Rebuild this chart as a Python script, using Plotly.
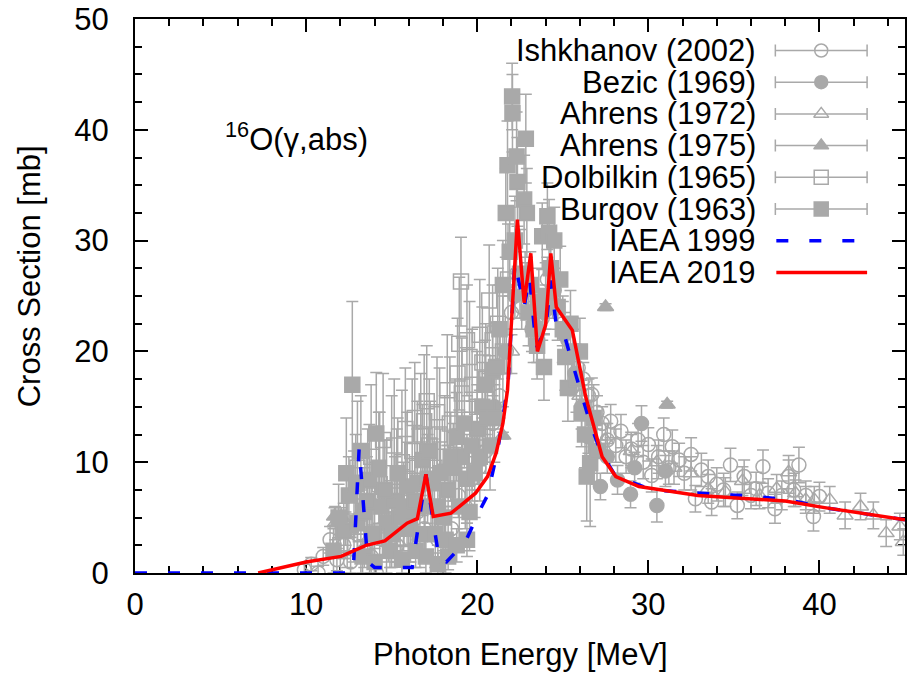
import plotly.graph_objects as go

# ---------------- data ----------------
# Ishkhanov (2002) open circles: energy, cross section, error
ish_E = [9.9, 10.3, 10.7, 11.0, 11.4, 11.8, 12.2, 12.6, 13.0, 13.4, 13.8, 14.1, 14.5, 14.9, 15.3, 15.7, 16.1, 16.5,
         16.9, 17.3, 17.7, 18.1, 18.5, 18.9, 19.3, 19.7, 20.1, 20.5, 20.9, 21.3, 21.7, 22.0, 22.3, 22.6,
         22.9, 23.2, 23.5, 23.8, 24.1, 24.4, 24.7, 25.0, 25.3, 25.6, 25.9, 26.2, 26.5, 26.7, 27.0, 27.3,
         27.6, 27.8, 28.1, 28.4, 28.7, 29.0, 29.4, 29.7, 30.0, 30.2, 30.6, 30.9, 31.2, 31.4, 31.8, 32.1,
         32.5, 32.75, 33.1, 33.5, 33.7, 34.0, 34.4, 34.8, 35.2, 35.6, 36.0, 36.3, 36.7, 37.0, 37.4, 37.8,
         38.2, 38.5, 38.8, 39.2, 39.65, 40.0]
ish_S = [0.3, 0.8, 0.0, 1.5, 3.0, 1.2, 2.5, 1.0, 3.5, 2.0, 1.5, 0.0, 3.0, 4.0, 2.5, 4.5, 3.0, 5.5,
         4.0, 6.0, 3.0, 5.0, 4.0, 7.0, 6.0, 8.5, 9.5, 11.0, 13.5, 16.0, 20.0, 23.5, 27.0, 24.0,
         26.0, 22.0, 21.0, 23.0, 26.5, 25.0, 24.0, 22.5, 21.0, 20.0, 18.5, 17.5, 16.0, 16.1, 14.5, 13.5,
         12.0, 13.7, 11.5, 12.8, 10.5, 11.2, 12.0, 10.0, 11.6, 8.8, 10.5, 12.5, 9.5, 11.4, 10.2, 9.0,
         10.7, 6.7, 9.3, 8.7, 6.4, 8.0, 7.5, 9.75, 6.1, 8.7, 7.0, 7.6, 9.6, 7.2, 5.8, 7.0,
         8.7, 7.5, 9.75, 7.0, 5.1, 6.9]
ish_D = [0.5, 0.6, 0.6, 0.8, 1.2, 1.0, 1.2, 1.0, 1.5, 1.5, 1.5, 0.8, 1.5, 1.5, 1.5, 2.0, 2.0, 2.0,
         2.0, 2.0, 2.0, 2.0, 2.0, 2.0, 2.0, 2.0, 2.0, 2.0, 2.0, 2.0, 2.0, 2.0, 2.0, 2.0,
         2.0, 2.0, 2.0, 2.0, 2.0, 2.0, 2.0, 2.0, 2.0, 2.0, 2.0, 1.5, 1.5, 1.5, 1.5, 1.5,
         1.5, 1.5, 1.5, 1.5, 1.5, 1.5, 1.5, 1.5, 1.5, 1.5, 1.5, 1.5, 1.5, 1.5, 1.5, 1.5,
         1.5, 1.2, 1.5, 1.5, 1.2, 1.5, 1.5, 1.5, 1.2, 1.5, 1.2, 1.5, 1.5, 1.3, 1.3, 1.3,
         1.5, 1.5, 1.6, 1.3, 1.3, 1.3]

# Bezic (1969) filled circles
bez_E = [21.0, 21.6, 22.2, 22.8, 23.3, 23.9, 24.5, 25.1, 25.7, 26.1, 26.5, 27.2, 27.6, 28.2, 28.96, 29.2, 29.6, 30.5, 31.0]
bez_S = [15.0, 20.0, 25.0, 27.0, 22.5, 23.5, 25.5, 21.5, 18.0, 15.0, 12.3, 7.8, 10.5, 8.4, 7.1, 9.5, 13.5, 6.1, 9.2]
bez_D = [2.0, 2.0, 2.0, 2.0, 2.0, 2.0, 2.0, 2.0, 2.0, 2.0, 1.5, 1.2, 1.5, 1.3, 1.2, 1.4, 1.6, 1.5, 1.4]

# Ahrens (1972) open triangles
a72_E = [11.7, 12.3, 20.0, 22.0, 24.0, 26.0, 27.5, 29.0, 30.5, 31.5, 32.5, 33.5, 34.5, 35.5, 36.5, 37.5,
         38.2, 38.6, 39.2, 39.7, 40.6, 41.5, 42.4, 43.15, 43.9, 44.7, 44.9]
a72_S = [4.5, 4.0, 10.0, 20.0, 24.0, 16.0, 12.0, 11.0, 10.0, 9.5, 9.0, 7.6, 7.3, 8.3, 7.0, 7.6,
         9.1, 7.2, 6.6, 6.6, 6.6, 5.2, 6.0, 5.2, 3.6, 4.2, 2.8]
a72_D = [1.5, 1.5, 2.0, 2.0, 2.0, 1.5, 1.5, 1.5, 1.5, 1.5, 1.5, 1.3, 1.3, 1.3, 1.2, 1.3,
         1.5, 1.2, 1.2, 1.2, 1.2, 1.2, 1.2, 1.2, 1.2, 1.2, 1.2]

# Ahrens (1975) filled triangles
a75_E = [11.66, 12.05, 12.6, 13.2, 21.5, 27.5, 31.1]
a75_S = [5.1, 5.1, 4.0, 5.5, 12.4, 24.0, 15.2]
a75_D = [0.8, 0.8, 0.8, 0.8, 0.3, 0.3, 0.3]

# Dolbilkin (1965) open squares
dol_E = [12.0, 12.4, 12.8, 13.2, 13.6, 14.0, 14.3, 14.7, 15.0, 15.3, 15.6, 15.9, 16.2, 16.5, 16.9, 17.2,
         17.5, 17.8, 18.1, 18.4, 18.7, 18.95, 19.05, 19.1, 19.4, 19.7, 20.0, 20.3, 20.7, 20.9, 21.2, 21.5, 21.8,
         13.0, 13.8, 14.5, 15.15, 15.8, 16.35, 16.7, 17.05, 17.65, 18.25, 18.85, 19.55, 20.15, 20.5]
dol_S = [2.5, 4.0, 6.0, 3.5, 7.0, 5.0, 8.0, 6.0, 9.0, 7.0, 10.0, 8.5, 11.0, 9.5, 13.7, 11.5,
         9.5, 12.5, 10.5, 13.5, 12.0, 20.7, 26.3, 16.2, 21.0, 17.0, 15.0, 19.0, 24.6, 21.0, 22.5, 20.0, 26.5,
         9.5, 10.5, 12.0, 11.5, 13.0, 14.0, 12.5, 15.5, 14.5, 16.5, 18.0, 19.5, 21.5, 17.5]
dol_D = [2.5, 3.5, 5.0, 4.0, 6.0, 5.0, 6.5, 6.0, 7.0, 6.0, 6.5, 6.0, 6.5, 6.0, 6.0, 6.0,
         5.5, 6.0, 5.5, 6.0, 5.5, 6.0, 4.0, 5.0, 5.0, 5.0, 5.0, 5.0, 5.0, 5.0, 5.0, 5.0, 5.0,
         6.0, 6.5, 6.0, 6.0, 5.5, 5.0, 5.5, 5.0, 5.0, 5.0, 5.0, 5.0, 5.0, 5.0]

# Burgov (1963) filled squares
bur_E = [12.2, 12.5, 12.7, 13.0, 13.4, 13.7, 14.1, 14.4, 14.8, 15.2, 15.5, 15.9, 16.2, 16.5, 16.8, 17.1,
         17.4, 17.7, 18.0, 18.3, 18.6, 18.8, 19.1, 19.4, 19.7, 20.0, 20.3, 20.6, 20.9, 21.1, 21.3, 21.5,
         21.67, 21.77, 21.9, 22.04, 22.06, 22.2, 22.3, 22.35, 22.5, 22.74, 22.84, 22.9, 23.1, 23.3, 23.5,
         23.8, 23.9, 24.0, 24.1, 24.2, 24.5, 24.7, 25.0, 25.3, 25.6, 26.1, 26.4, 26.6, 27.0,
         11.6, 11.9, 12.35, 12.9, 13.2, 13.55, 13.9, 14.25, 14.6, 15.0, 15.35, 15.7, 16.0, 16.35, 16.65,
         16.95, 17.25, 17.55, 17.85, 18.15, 18.45, 18.95, 19.25, 19.55, 19.85, 20.15, 20.45, 20.75, 21.0,
         23.0, 23.6, 24.3, 24.85, 25.15, 25.45, 25.8, 26.0, 26.3, 26.8,
         13.3, 14.0, 14.9, 15.6, 16.4, 17.0, 17.7, 18.3, 18.8, 19.4]
bur_S = [3.8, 7.0, 17.0, 4.5, 5.5, 8.4, 12.6, 6.0, 4.5, 6.5, 5.0, 7.8, 5.5, 8.0, 10.2, 8.5,
         8.1, 6.0, 5.0, 7.5, 9.5, 12.3, 10.5, 8.5, 11.5, 13.0, 15.0, 14.0, 18.3, 18.6, 22.0, 26.0,
         32.5, 36.8, 29.0, 43.0, 41.5, 30.0, 37.6, 35.3, 27.0, 33.7, 39.2, 32.5, 26.0, 22.0, 20.5,
         30.4, 18.6, 25.0, 32.2, 30.7, 30.0, 24.0, 22.0, 16.7, 20.0, 14.4, 8.7, 9.9, 11.0,
         2.0, 5.0, 9.0, 8.0, 11.0, 6.5, 3.5, 9.5, 7.5, 3.5, 9.0, 6.0, 4.0, 6.5, 3.5,
         6.0, 11.0, 3.5, 9.0, 3.0, 10.5, 6.0, 13.5, 5.5, 9.0, 10.5, 17.0, 11.5, 14.0,
         23.5, 24.5, 27.5, 26.5, 19.5, 22.5, 17.5, 20.0, 12.5, 14.0,
         1.5, 1.0, 2.0, 1.2, 2.0, 1.5, 0.8, 1.5, 2.5, 3.0]
bur_D = [2.5, 3.5, 7.5, 3.0, 4.0, 5.0, 5.5, 3.5, 3.5, 4.0, 3.0, 4.0, 3.5, 5.0, 5.0, 4.0,
         4.0, 3.5, 3.0, 4.0, 4.0, 4.0, 4.0, 4.0, 4.0, 4.0, 4.0, 4.0, 4.0, 4.0, 4.0, 4.0,
         4.0, 4.0, 4.0, 3.0, 3.5, 4.0, 4.0, 4.0, 4.0, 4.0, 4.0, 4.0, 3.0, 3.0, 3.0,
         3.0, 3.0, 3.0, 3.0, 3.0, 3.0, 3.0, 3.0, 3.0, 3.0, 3.0, 4.0, 5.7, 3.0,
         2.0, 3.0, 5.0, 4.5, 5.0, 4.0, 3.0, 5.0, 4.5, 3.0, 5.0, 4.0, 3.0, 4.0, 3.0,
         4.0, 4.5, 3.0, 4.0, 3.0, 4.0, 3.5, 4.0, 3.5, 4.0, 4.0, 4.0, 4.0, 4.0,
         3.0, 3.0, 3.0, 3.0, 3.0, 3.0, 3.0, 3.0, 3.0, 3.0,
         1.5, 1.2, 1.5, 1.2, 1.5, 1.5, 1.0, 1.2, 1.5, 1.5]

# IAEA 1999 evaluation (blue dashed)
iaea99_E = [0.0, 12.75, 13.1, 13.6, 14.0, 16.2, 17.0, 17.8, 18.2, 19.3, 20.2, 20.6, 21.2, 21.8, 22.2, 22.74,
            23.05, 23.45, 24.0, 24.3, 24.6, 25.0, 25.4, 25.95, 26.6, 27.2, 28.1, 28.7, 30.2, 34.1, 36.0,
            38.2, 40.3, 45.0]
iaea99_S = [0.0, 0.0, 11.3, 1.0, 0.5, 0.5, 8.9, 1.0, 1.0, 2.8, 5.8, 7.0, 11.1, 17.0, 28.0, 24.0,
            26.7, 20.3, 22.0, 26.4, 22.6, 22.0, 19.8, 17.0, 13.5, 11.0, 8.7, 8.4, 7.5, 7.1, 6.95,
            6.6, 5.9, 4.8]

# IAEA 2019 evaluation (red solid)
iaea19_E = [7.2, 10.0, 12.05, 13.1, 13.5, 14.6, 15.9, 16.5, 17.0, 17.43, 18.47, 18.95, 19.9, 20.6,
            21.1, 21.5, 21.77, 22.35, 22.74, 23.13, 23.52, 24.0, 24.3, 24.62, 24.8, 25.56, 26.34, 27.3,
            28.1, 29.45, 32.9, 38.0, 40.3, 45.0]
iaea19_S = [0.0, 1.0, 1.5, 2.2, 2.5, 2.9, 4.5, 4.9, 8.9, 5.1, 5.4, 6.0, 7.2, 8.7,
            10.8, 13.5, 16.5, 31.9, 24.4, 28.85, 20.0, 22.4, 28.85, 24.0, 23.6, 21.9, 15.9, 10.5,
            8.7, 7.8, 7.0, 6.5, 5.9, 4.8]

legend_names = ["Ishkhanov (2002)", "Bezic (1969)", "Ahrens (1972)", "Ahrens (1975)",
                "Dolbilkin (1965)", "Burgov (1963)", "IAEA 1999", "IAEA 2019"]

x_ticks = [0, 10, 20, 30, 40]
y_ticks = [0, 10, 20, 30, 40, 50]

# ---------------- styles ----------------
GREY = "#a9a9a9"
FONT = "Liberation Sans, Arial, sans-serif"
FS = 31

datasets = [
    (ish_E, ish_S, ish_D, "circle-open", 14),
    (bez_E, bez_S, bez_D, "circle", 14),
    (a72_E, a72_S, a72_D, "triangle-up-open", 14),
    (a75_E, a75_S, a75_D, "triangle-up", 14),
    (dol_E, dol_S, dol_D, "square-open", 15),
    (bur_E, bur_S, bur_D, "square", 15),
]

fig = go.Figure()

for E, S, D, sym, size in datasets:
    fig.add_trace(go.Scatter(
        x=E, y=S, mode="markers",
        marker=dict(symbol=sym, size=size, color=GREY, line=dict(color=GREY, width=1.5)),
        error_y=dict(type="data", array=D, visible=True, color=GREY, thickness=1.5, width=6),
        showlegend=False,
    ))

fig.add_trace(go.Scatter(x=iaea99_E, y=iaea99_S, mode="lines", cliponaxis=False,
                         line=dict(color="#0000ff", width=3.5, dash="12px,21px"), showlegend=False))
fig.add_trace(go.Scatter(x=iaea19_E, y=iaea19_S, mode="lines",
                         line=dict(color="#ff0000", width=3.5), showlegend=False))

# ---------------- hand-made legend (overlay axis in plot-fraction units) ----------------
W, H = 907, 675
ML, MR, MT, MB = 135, 0, 19, 102
PW, PH = W - ML - MR, H - MT - MB


def fx(px):
    return (px - ML) / PW


def fy(py):
    return (MT + PH - py) / PH


row0, dy = 50.5, 31.7
text_right = 760
sym_x = 823
bar_l, bar_r = 778, 869

for i, name in enumerate(legend_names):
    yy = fy(row0 + i * dy)
    fig.add_annotation(x=fx(text_right), y=yy, xref="paper", yref="paper", text=name,
                       showarrow=False, xanchor="right", yanchor="middle",
                       font=dict(family=FONT, size=FS, color="black"))
    if i < 6:
        E, S, D, sym, size = datasets[i]
        fig.add_trace(go.Scatter(
            x=[fx(sym_x)], y=[yy], xaxis="x2", yaxis="y2", mode="markers",
            marker=dict(symbol=sym, size=size - 1, color=GREY, line=dict(color=GREY, width=1.5)),
            error_x=dict(type="constant", value=fx(bar_r) - fx(sym_x), visible=True,
                         color=GREY, thickness=1.5, width=6),
            showlegend=False, cliponaxis=False))
    elif i == 6:
        fig.add_trace(go.Scatter(x=[fx(bar_l), fx(bar_r)], y=[yy, yy], xaxis="x2", yaxis="y2",
                                 mode="lines", line=dict(color="#0000ff", width=3.5, dash="12px,21px"),
                                 showlegend=False, cliponaxis=False))
    else:
        fig.add_trace(go.Scatter(x=[fx(bar_l), fx(bar_r)], y=[yy, yy], xaxis="x2", yaxis="y2",
                                 mode="lines", line=dict(color="#ff0000", width=3.5),
                                 showlegend=False, cliponaxis=False))

fig.add_annotation(x=fx(223), y=fy(137), xref="paper", yref="paper",
                   text="<sup>16</sup>O(γ,abs)", showarrow=False, xanchor="left", yanchor="middle",
                   font=dict(family=FONT, size=FS, color="black"))

# axis titles
fig.add_annotation(x=fx(521), y=fy(654), xref="paper", yref="paper", text="Photon Energy [MeV]",
                   showarrow=False, xanchor="center", yanchor="middle",
                   font=dict(family=FONT, size=FS, color="black"))
fig.add_annotation(x=fx(29), y=fy(276), xref="paper", yref="paper", text="Cross Section [mb]",
                   showarrow=False, xanchor="center", yanchor="middle", textangle=-90,
                   font=dict(family=FONT, size=FS, color="black"))

axis_common = dict(showgrid=False, zeroline=False, showline=True, linecolor="black", linewidth=2,
                   mirror="ticks", ticks="inside", ticklen=13, tickwidth=1.5, tickcolor="black",
                   layer="below traces",
                   tickfont=dict(family=FONT, size=FS, color="black"))

fig.update_layout(
    width=W, height=H,
    margin=dict(l=ML, r=MR, t=MT, b=MB, pad=0),
    paper_bgcolor="white", plot_bgcolor="white",
    font=dict(family=FONT, size=FS, color="black"),
    xaxis=dict(range=[0, 45], tickvals=x_ticks, ticktext=[str(v) for v in x_ticks],
               minor=dict(dtick=2, ticklen=7, ticks="inside", tickcolor="black", tickwidth=1.5),
               ticklabelstandoff=3,
               **axis_common),
    yaxis=dict(range=[0, 50], tickvals=y_ticks, ticktext=[str(v) for v in y_ticks],
               minor=dict(dtick=2.5, ticklen=7, ticks="inside", tickcolor="black", tickwidth=1.5),
               ticklabelstandoff=18,
               **axis_common),
    xaxis2=dict(domain=[0, 1], range=[0, 1], overlaying="x", anchor="y2", visible=False),
    yaxis2=dict(domain=[0, 1], range=[0, 1], overlaying="y", anchor="x2", visible=False),
    showlegend=False,
)

fig.write_html("out.html")
